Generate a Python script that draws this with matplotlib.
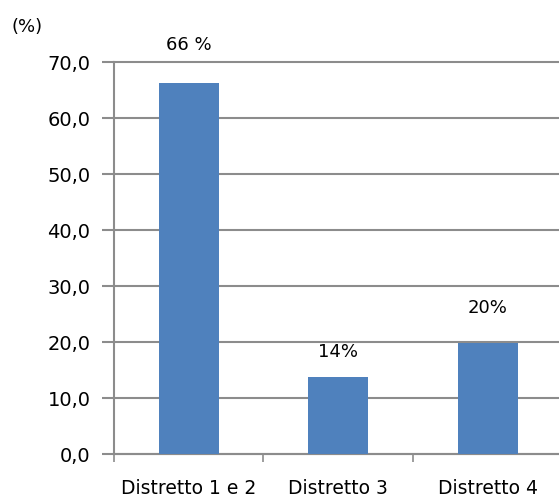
import matplotlib
matplotlib.use("Agg")
import matplotlib.pyplot as plt
from matplotlib.ticker import FixedLocator, FuncFormatter

categories = ["Distretto 1 e 2", "Distretto 3", "Distretto 4"]
values = [66.3, 13.8, 19.9]
bar_labels = ["66 %", "14%", "20%"]
yticks = [0, 10, 20, 30, 40, 50, 60, 70]

plt.rcParams['font.family'] = ['DejaVu Sans']
fig = plt.figure(figsize=(5.59, 4.97), dpi=100)
W, H = 559, 497
left, right, bottom, top = 114, 562.5, 454, 62
ax = fig.add_axes([left / W, 1 - bottom / H, (right - left) / W, (bottom - top) / H])

x = list(range(len(categories)))
ax.bar(x, values, width=0.4, color="#4F81BD", zorder=3)
ax.set_xlim(-0.5, len(categories) - 0.5)
ax.set_ylim(0, 70)
ax.set_yticks(yticks)
ax.yaxis.set_major_formatter(FuncFormatter(lambda v, p: f"{v:.1f}".replace(".", ",")))
ax.grid(axis="y", color="#8c8c8c", linewidth=1.5, zorder=0)
ax.set_axisbelow(True)
for gl in ax.get_ygridlines():
    gl.set_clip_on(False)

ax.set_xticks(x)
ax.set_xticklabels(categories)
ax.xaxis.set_minor_locator(FixedLocator([i - 0.5 for i in range(len(categories) + 1)]))
ax.tick_params(axis="x", which="major", length=0, pad=18, labelsize=13.5)
ax.tick_params(axis="x", which="minor", length=6, width=1.2, color="#8c8c8c", direction="out")
ax.tick_params(axis="y", length=9, width=1.5, color="#8c8c8c", pad=8, labelsize=14)

for s in ["top", "right"]:
    ax.spines[s].set_visible(False)
for s in ["left", "bottom"]:
    ax.spines[s].set_color("#8c8c8c")
    ax.spines[s].set_linewidth(1.5)

offsets = [(0, 27), (0, 18), (0, 25)]
for xi, v, lab, off in zip(x, values, bar_labels, offsets):
    ax.annotate(lab, (xi, v), xytext=off, textcoords="offset points",
                ha="center", va="center", fontsize=13)

fig.text(12 / W, 1 - 27 / H, "(%)", fontsize=13, ha="left", va="center")

fig.savefig("out.png", dpi=100)
